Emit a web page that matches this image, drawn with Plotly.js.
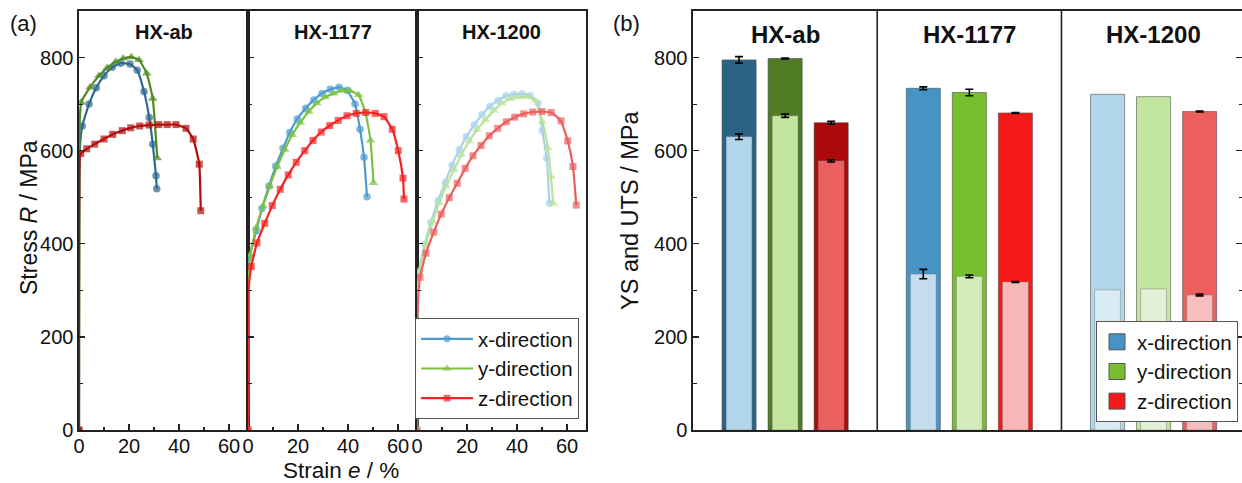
<!DOCTYPE html>
<html><head><meta charset="utf-8">
<script src="https://cdn.plot.ly/plotly-3.0.1.min.js"></script>
<style>html,body{margin:0;padding:0;background:#fff}#chart{width:1242px;height:483px}</style>
</head><body><div id="chart"></div>
<script>
// ---------------- DATA: panel (a) stress-strain curves ----------------
// (second point of each curve = end of the elastic part, drawn without marker)
const ab_x_strain = [0, 0.3, 1.3, 4.0, 6.9, 10.0, 13.3, 16.7, 20.4, 23.3, 26.0, 28.1, 29.5, 30.8, 31.1];
const ab_x_stress = [0, 600, 653, 700, 735, 761, 779, 788, 786, 773, 727, 671, 614, 546, 518];
const ab_y_strain = [0, 0.2, 0.9, 4.4, 8.0, 11.3, 14.7, 17.7, 20.9, 24.0, 27.1, 29.5, 31.3];
const ab_y_stress = [0, 650, 704, 736, 761, 778, 791, 798, 801, 795, 766, 712, 584];
const ab_z_strain = [0, 0.3, 0.7, 3.1, 6.3, 10.0, 13.5, 17.3, 20.7, 24.3, 28.0, 31.9, 35.3, 38.8, 42.8, 45.7, 48.1, 48.7];
const ab_z_stress = [0, 585, 594, 604, 614, 625, 635, 643, 649, 653, 655, 656, 656, 656, 648, 625, 571, 471];

const h1177_x_strain = [0, 0.2, 0.6, 3.3, 5.6, 8.4, 11.1, 14.0, 16.7, 19.7, 23.1, 26.3, 29.6, 32.9, 36.4, 39.6, 42.8, 44.8, 46.4, 47.6];
const h1177_x_stress = [0, 300, 372, 428, 476, 524, 567, 605, 639, 668, 691, 709, 723, 732, 736, 730, 700, 646, 586, 501];
const h1177_y_strain = [0, 0.2, 0.9, 3.3, 6.0, 8.7, 11.7, 14.7, 17.7, 20.9, 24.3, 27.6, 30.9, 34.3, 37.6, 40.7, 44.2, 47.0, 49.0, 50.2];
const h1177_y_stress = [0, 300, 376, 435, 481, 524, 566, 602, 634, 660, 684, 702, 715, 723, 729, 729, 720, 682, 622, 531];
const h1177_z_strain = [0, 0.2, 1.3, 3.6, 6.7, 9.7, 12.9, 16.1, 19.3, 22.7, 26.0, 29.3, 32.7, 36.1, 39.6, 43.3, 47.1, 50.9, 54.4, 57.7, 60.1, 62.0, 62.4];
const h1177_z_stress = [0, 300, 351, 402, 444, 482, 517, 548, 575, 600, 622, 640, 654, 665, 675, 680, 682, 680, 673, 646, 600, 541, 496];

const h1200_x_strain = [0, 0.2, 0.8, 3.1, 5.6, 8.4, 11.3, 14.0, 16.9, 19.7, 22.9, 26.0, 29.1, 32.4, 35.6, 38.8, 42.0, 45.3, 48.4, 50.1, 51.9, 53.0];
const h1200_x_stress = [0, 270, 340, 399, 446, 493, 532, 569, 602, 630, 655, 677, 695, 708, 718, 721, 722, 718, 702, 643, 584, 487];
const h1200_y_strain = [0, 0.2, 0.9, 3.6, 6.3, 8.9, 11.7, 14.8, 17.7, 20.9, 24.0, 27.3, 30.7, 34.0, 37.3, 40.7, 44.0, 47.3, 50.2, 52.3, 53.6, 54.5];
const h1200_y_stress = [0, 270, 340, 401, 448, 488, 524, 559, 591, 620, 645, 666, 686, 702, 711, 715, 716, 708, 662, 606, 544, 486];
const h1200_z_strain = [0, 0.2, 1.2, 3.6, 6.7, 9.7, 12.9, 16.1, 19.3, 22.4, 25.6, 28.9, 32.3, 35.7, 39.1, 42.7, 46.3, 50.0, 53.7, 57.6, 60.3, 62.4, 63.7];
const h1200_z_stress = [0, 250, 328, 380, 425, 464, 499, 530, 562, 589, 611, 632, 648, 662, 672, 679, 683, 684, 682, 664, 621, 566, 483];

// ---------------- DATA: panel (b) YS / UTS ----------------
const groups = ['HX-ab', 'HX-1177', 'HX-1200'];
const directions = ['x-direction', 'y-direction', 'z-direction'];
const uts_x = [795, 734, 721];
const uts_y = [798, 725, 716];
const uts_z = [660, 681, 684];
const ys_x = [630, 335, 301];
const ys_y = [675, 330, 303];
const ys_z = [578, 318, 290];
const utsErr_x = [7, 3, NaN];
const utsErr_y = [1, 7, NaN];
const utsErr_z = [3, 1, 1];
const ysErr_x = [6, 10, NaN];
const ysErr_y = [3.5, 3, NaN];
const ysErr_z = [2.5, 1, 2];

// ---------------- STYLE ----------------
const W = 1242, H = 483;
const px = v => v / W;
const py = v => 1 - v / H;
const FONT = 'Arial, "Liberation Sans", Helvetica, sans-serif';
const TXT = '#111';
const AX = '#222';

const curveColors = {
  ab:   ['#2d6a92', '#4f8a22', '#b30d0d'],
  h1177:['#4b9bd2', '#7cc242', '#f52222'],
  h1200:['#a8d2ec', '#b9e39b', '#ec5e5e']
};
const symbols = ['circle', 'triangle-up', 'square'];
const symSize = [7.5, 8.5, 7];

const barUTSColors = [
  ['#2b6384', '#4694c6', '#b1d5e9'],
  ['#4f7b25', '#78bf30', '#c2e69d'],
  ['#ac0a0a', '#f41a1a', '#eb5f5f']
];
const barYSColors = [
  ['#b1d5e9', '#c4dcec', '#d9ebf4'],
  ['#c2e69d', '#d3ecbc', '#e3f2d6'],
  ['#eb5f5f', '#f8b8b9', '#f8bdbd']
];
const legendBColors = ['#4694c6', '#78bf30', '#f41a1a'];

// ---------------- TRACES ----------------
const traces = [];
const curveSets = [
  {key: 'ab', ax: '', data: [[ab_x_strain, ab_x_stress], [ab_y_strain, ab_y_stress], [ab_z_strain, ab_z_stress]]},
  {key: 'h1177', ax: '2', data: [[h1177_x_strain, h1177_x_stress], [h1177_y_strain, h1177_y_stress], [h1177_z_strain, h1177_z_stress]]},
  {key: 'h1200', ax: '3', data: [[h1200_x_strain, h1200_x_stress], [h1200_y_strain, h1200_y_stress], [h1200_z_strain, h1200_z_stress]]}
];
curveSets.forEach(set => {
  set.data.forEach((d, k) => {
    const sizes = d[0].map((_, i) => i === 1 ? 0 : symSize[k]);
    traces.push({
      type: 'scatter', mode: 'lines+markers',
      x: d[0], y: d[1],
      xaxis: 'x' + set.ax, yaxis: 'y' + set.ax,
      name: directions[k],
      showlegend: set.key === 'h1177',
      legend: 'legend',
      line: {color: curveColors[set.key][k], width: 2.2, shape: 'spline', smoothing: 0.4},
      marker: {symbol: symbols[k], size: sizes, color: curveColors[set.key][k], line: {width: 0}},
      hoverinfo: 'skip'
    });
  });
});

// panel (b) bars
const utsAll = [uts_x, uts_y, uts_z];
const ysAll = [ys_x, ys_y, ys_z];
const utsErrAll = [utsErr_x, utsErr_y, utsErr_z];
const ysErrAll = [ysErr_x, ysErr_y, ysErr_z];
const barX = k => groups.map((_, g) => g * 4 + 1 + k);

[0, 1, 2].forEach(k => {
  traces.push({
    type: 'bar', x: barX(k), y: utsAll[k], width: 0.74,
    xaxis: 'x4', yaxis: 'y4', showlegend: false, name: directions[k] + ' UTS',
    marker: {color: barUTSColors[k], line: {color: 'rgba(70,70,70,0.55)', width: 1}},
    error_y: {type: 'data', array: utsErrAll[k], visible: true, color: '#000', thickness: 1.6, width: 4},
    hoverinfo: 'skip'
  });
});
[0, 1, 2].forEach(k => {
  traces.push({
    type: 'bar', x: barX(k), y: ysAll[k], width: 0.56,
    xaxis: 'x4', yaxis: 'y4', showlegend: false, name: directions[k] + ' YS',
    marker: {color: barYSColors[k], line: {color: 'rgba(120,120,120,0.45)', width: 1}},
    error_y: {type: 'data', array: ysErrAll[k], visible: true, color: '#000', thickness: 1.6, width: 4},
    hoverinfo: 'skip'
  });
});
// legend entries for panel (b)
[0, 1, 2].forEach(k => {
  traces.push({
    type: 'scatter', mode: 'markers', x: [null], y: [null], xaxis: 'x4', yaxis: 'y4',
    name: directions[k], legend: 'legend2', showlegend: true,
    marker: {symbol: 'square', size: 16, color: legendBColors[k], line: {color: '#555', width: 1}},
    hoverinfo: 'skip'
  });
});

// ---------------- LAYOUT ----------------
const yDom = [py(430), py(11)];
const baseX = {
  range: [0, 67.6], tick0: 0, dtick: 20, ticks: 'inside', ticklen: 6, tickwidth: 1.3, tickcolor: AX,
  minor: {ticks: 'inside', ticklen: 3.5, dtick: 10, tickwidth: 1.2, tickcolor: AX},
  showline: true, linewidth: 1.6, linecolor: AX, mirror: true,
  showgrid: false, zeroline: false, fixedrange: true, ticklabelstandoff: -3,
  tickfont: {family: FONT, size: 20, color: TXT}
};
const baseY = {
  range: [0, 900], tick0: 0, dtick: 200, ticks: 'inside', ticklen: 6, tickwidth: 1.3, tickcolor: AX,
  minor: {ticks: 'inside', ticklen: 3.5, dtick: 100, tickwidth: 1.2, tickcolor: AX},
  showline: true, linewidth: 1.6, linecolor: AX, mirror: true,
  showgrid: false, zeroline: false, fixedrange: true, domain: yDom,
  tickfont: {family: FONT, size: 20, color: TXT}
};
const legendBase = {
  bgcolor: '#fff', bordercolor: '#555', borderwidth: 1,
  font: {family: FONT, size: 20.5, color: TXT}, tracegroupgap: 0, itemwidth: 52
};

const layout = {
  width: W, height: H,
  margin: {l: 0, r: 0, t: 0, b: 0},
  paper_bgcolor: '#fff', plot_bgcolor: 'rgba(0,0,0,0)',
  font: {family: FONT, color: TXT},
  barmode: 'overlay',
  xaxis:  Object.assign({}, baseX, {domain: [px(79), px(248)], anchor: 'y'}),
  xaxis2: Object.assign({}, baseX, {domain: [px(248), px(417)], anchor: 'y2'}),
  xaxis3: Object.assign({}, baseX, {domain: [px(417), px(586)], anchor: 'y3'}),
  yaxis:  Object.assign({}, baseY, {anchor: 'x'}),
  yaxis2: Object.assign({}, baseY, {anchor: 'x2', showticklabels: false}),
  yaxis3: Object.assign({}, baseY, {anchor: 'x3', showticklabels: false}),
  xaxis4: {domain: [px(693), 1], anchor: 'y4', range: [0, 11.92], showticklabels: false, ticks: '',
           showline: true, linewidth: 1.6, linecolor: AX, mirror: true, showgrid: false, zeroline: false, fixedrange: true},
  yaxis4: Object.assign({}, baseY, {anchor: 'x4', mirror: 'allticks'}),
  legend: Object.assign({}, legendBase, {x: px(579), xanchor: 'right', y: py(419), yanchor: 'bottom'}),
  legend2: Object.assign({}, legendBase, {x: px(1238), xanchor: 'right', y: py(422), yanchor: 'bottom', itemwidth: 30}),
  shapes: [4, 8].map(v => ({type: 'line', xref: 'x4', yref: 'paper', x0: v, x1: v, y0: yDom[0], y1: yDom[1],
                            line: {color: AX, width: 1.6}})),
  annotations: [
    {text: '(a)', x: px(23), y: py(24), font: {size: 22}},
    {text: '(b)', x: px(626), y: py(24), font: {size: 22}},
    {text: '<b>' + groups[0] + '</b>', x: px(163.5), y: py(32), font: {size: 20}},
    {text: '<b>' + groups[1] + '</b>', x: px(332.5), y: py(32), font: {size: 20}},
    {text: '<b>' + groups[2] + '</b>', x: px(501.5), y: py(32), font: {size: 20}},
    {text: 'Stress <i>R</i> / MPa', x: px(29), y: py(218), textangle: -90, font: {size: 23}},
    {text: 'Strain <i>e</i> / %', x: px(341), y: py(470), font: {size: 22.5}},
    {text: 'YS and UTS / MPa', x: px(630), y: py(211), textangle: -90, font: {size: 23.5}}
  ].map(a => Object.assign({xref: 'paper', yref: 'paper', showarrow: false, xanchor: 'center', yanchor: 'middle'}, a,
                           {font: Object.assign({family: FONT, color: TXT}, a.font)}))
    .concat(groups.map((g, i) => ({
      text: '<b>' + g + '</b>', xref: 'x4', yref: 'paper', x: i * 4 + 2, y: py(34), showarrow: false,
      xanchor: 'center', yanchor: 'middle', font: {family: FONT, size: 24, color: TXT}
    })))
};

Plotly.newPlot('chart', traces, layout, {staticPlot: true, displayModeBar: false});
</script></body></html>
